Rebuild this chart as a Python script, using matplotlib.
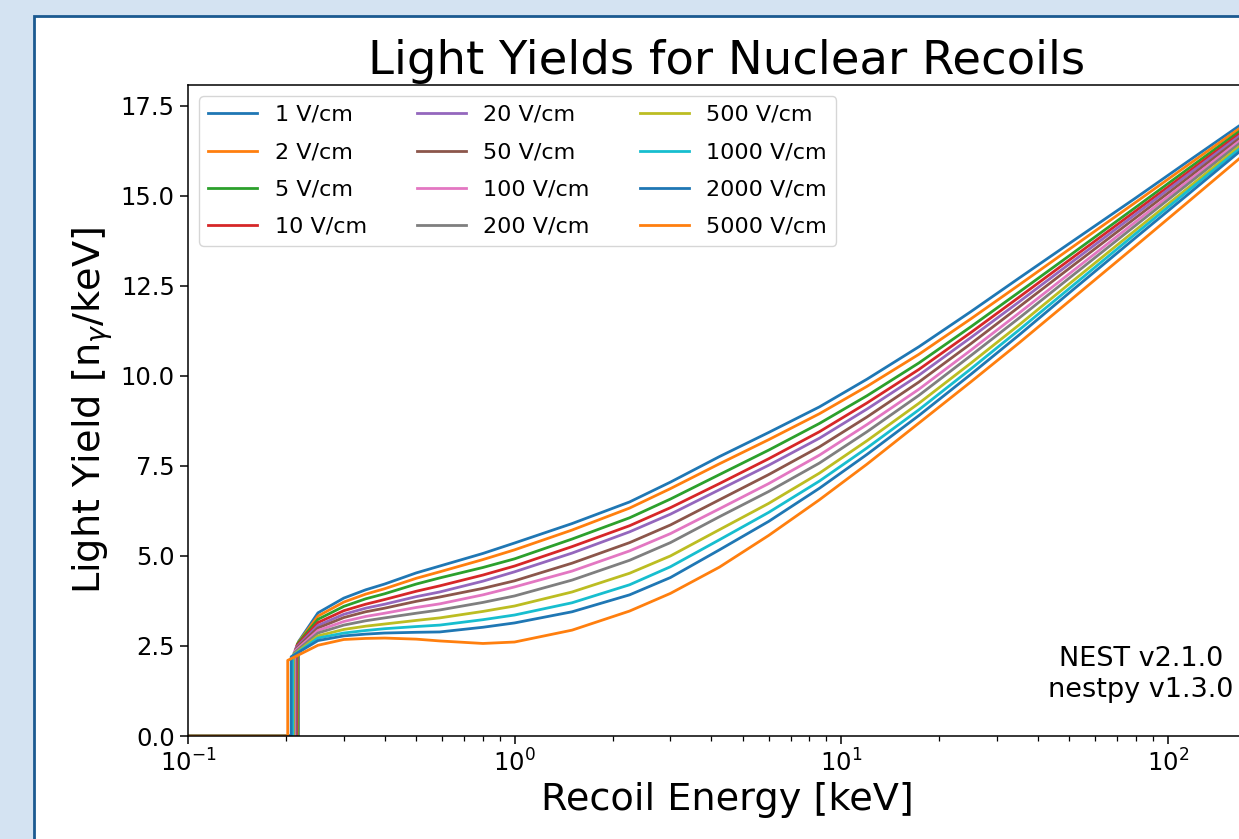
import matplotlib
matplotlib.use("Agg")
import matplotlib.pyplot as plt
from matplotlib.patches import Rectangle

# drift fields and the legend text
fields = [1, 2, 5, 10, 20, 50, 100, 200, 500, 1000, 2000, 5000]
labels = [f"{f} V/cm" for f in fields]

# energy where each curve jumps off zero (keV)
thresholds = [0.218, 0.217, 0.216, 0.215, 0.214, 0.213, 0.212, 0.211, 0.210, 0.209, 0.207, 0.202]
step_yield = [2.62, 2.58, 2.55, 2.50, 2.45, 2.40, 2.35, 2.30, 2.25, 2.22, 2.20, 2.10]

# energies (keV) above threshold
energies = [0.25, 0.3, 0.35, 0.4, 0.5, 0.59, 0.8, 1.0, 1.5, 2.25, 3.0, 4.24,
            6.0, 8.58, 12, 17.3, 25, 35.1, 50, 80, 115, 164, 200]

# light yield per field at each energy above (rows follow `fields`)
ly_1 = [3.42, 3.83, 4.06, 4.22, 4.53, 4.72, 5.07, 5.36, 5.90, 6.50, 7.05, 7.76,
        8.43, 9.14, 9.91, 10.81, 11.79, 12.72, 13.68, 14.95, 15.95, 16.92, 17.45]
ly_2 = [3.33, 3.72, 3.94, 4.09, 4.38, 4.56, 4.90, 5.17, 5.72, 6.33, 6.87, 7.56,
        8.23, 8.95, 9.71, 10.60, 11.59, 12.53, 13.52, 14.83, 15.85, 16.84, 17.38]
ly_5 = [3.24, 3.60, 3.81, 3.95, 4.22, 4.39, 4.68, 4.92, 5.47, 6.06, 6.58, 7.26,
        7.94, 8.68, 9.45, 10.36, 11.37, 12.33, 13.34, 14.69, 15.74, 16.76, 17.31]
ly_10 = [3.15, 3.48, 3.66, 3.79, 4.02, 4.17, 4.47, 4.72, 5.26, 5.84, 6.34, 7.01,
         7.70, 8.45, 9.25, 10.18, 11.21, 12.19, 13.22, 14.59, 15.65, 16.69, 17.25]
ly_20 = [3.07, 3.38, 3.55, 3.66, 3.87, 4.00, 4.30, 4.56, 5.08, 5.67, 6.16, 6.84,
         7.52, 8.27, 9.08, 10.02, 11.07, 12.06, 13.11, 14.50, 15.58, 16.63, 17.20]
ly_50 = [3.00, 3.29, 3.45, 3.55, 3.74, 3.86, 4.10, 4.31, 4.80, 5.37, 5.86, 6.56,
         7.26, 8.03, 8.86, 9.83, 10.90, 11.92, 12.99, 14.40, 15.49, 16.56, 17.14]
ly_100 = [2.93, 3.18, 3.32, 3.41, 3.57, 3.67, 3.92, 4.14, 4.58, 5.14, 5.62, 6.31,
          7.01, 7.80, 8.65, 9.63, 10.72, 11.75, 12.84, 14.29, 15.40, 16.49, 17.08]
ly_200 = [2.86, 3.08, 3.20, 3.28, 3.41, 3.50, 3.71, 3.89, 4.33, 4.88, 5.37, 6.09,
          6.79, 7.58, 8.45, 9.46, 10.57, 11.61, 12.72, 14.19, 15.32, 16.42, 17.02]
ly_500 = [2.78, 2.96, 3.05, 3.11, 3.21, 3.28, 3.46, 3.61, 4.00, 4.52, 5.00, 5.73,
          6.46, 7.30, 8.20, 9.24, 10.36, 11.42, 12.56, 14.06, 15.21, 16.34, 16.95]
ly_1000 = [2.72, 2.86, 2.93, 2.98, 3.04, 3.08, 3.23, 3.36, 3.70, 4.20, 4.70, 5.45,
           6.21, 7.08, 8.00, 9.06, 10.20, 11.28, 12.43, 13.96, 15.13, 16.27, 16.89]
ly_2000 = [2.65, 2.78, 2.83, 2.86, 2.88, 2.89, 3.02, 3.14, 3.45, 3.92, 4.40, 5.17,
           5.96, 6.88, 7.82, 8.90, 10.05, 11.14, 12.31, 13.85, 15.03, 16.19, 16.82]
ly_5000 = [2.52, 2.68, 2.71, 2.72, 2.69, 2.64, 2.57, 2.61, 2.94, 3.47, 3.96, 4.69,
           5.57, 6.56, 7.55, 8.69, 9.84, 10.92, 12.08, 13.62, 14.82, 16.00, 16.66]

yields = [ly_1, ly_2, ly_5, ly_10, ly_20, ly_50, ly_100, ly_200,
          ly_500, ly_1000, ly_2000, ly_5000]

W, H = 1239, 839
fig = plt.figure(figsize=(W / 100, H / 100), dpi=100)
fig.patch.set_facecolor("#d4e3f2")

# white panel with a dark blue border, running off the right and bottom
panel = Rectangle((34 / W, -0.2), 1.2, (H - 16) / H + 0.2, transform=fig.transFigure,
                  facecolor="white", edgecolor="#1b5a91", linewidth=2.0, zorder=0)
fig.add_artist(panel)

ax = fig.add_axes([188 / W, 1 - 736 / H, (1266 - 188) / W, (736 - 85) / H])

colors = [f"C{i % 10}" for i in range(len(fields))]
for lab, thr, y0, ly, c in zip(labels, thresholds, step_yield, yields, colors):
    xs = [0.1, thr, thr] + energies
    ys = [0.0, 0.0, y0] + ly
    ax.plot(xs, ys, color=c, lw=2.0, label=lab)

ax.set_xscale("log")
ax.set_xlim(0.1, 200)
ax.set_ylim(0, 18.08)
ax.set_yticks([0, 2.5, 5, 7.5, 10, 12.5, 15, 17.5])

ax.set_title("Light Yields for Nuclear Recoils", fontsize=33.5, pad=8)
ax.set_xlabel("Recoil Energy [keV]", fontsize=27.5)
ax.set_ylabel(r"Light Yield [n$_\gamma$/keV]", fontsize=27.5)
ax.tick_params(labelsize=17.5, length=6, width=1.1)
ax.tick_params(which="minor", length=3.5, width=0.9)
for s in ax.spines.values():
    s.set_linewidth(1.1)

ax.legend(loc="upper left", ncol=3, fontsize=16, labelspacing=0.78,
          handlelength=2.2, handletextpad=0.8, columnspacing=2.25)
ax.text(82.8, 1.72, "NEST v2.1.0\nnestpy v1.3.0", ha="center", va="center",
        multialignment="center", fontsize=19.5, linespacing=1.25)

fig.savefig("out.png", dpi=100, facecolor=fig.get_facecolor())
